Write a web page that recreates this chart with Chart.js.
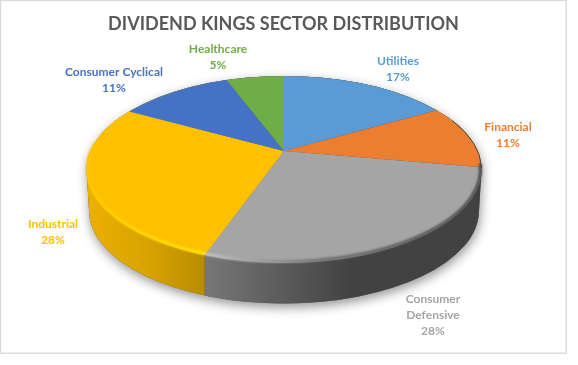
<!DOCTYPE html>
<html><head><meta charset="utf-8">
<style>html,body{margin:0;padding:0;background:#fff}canvas{display:block}</style>
<script src="https://cdn.jsdelivr.net/npm/chart.js@4"></script>
</head><body>
<canvas id="c" width="578" height="365"></canvas>
<script>
const chartTitle = 'DIVIDEND KINGS SECTOR DISTRIBUTION';
const categories = ['Utilities','Financial','Consumer Defensive','Industrial','Consumer Cyclical','Healthcare'];
const shares = [16.7,11.1,27.6,27.6,11.3,5.7];
const shareLabels = ['17%','11%','28%','28%','11%','5%'];
const sliceColors = ['#5B9BD5','#ED7D31','#A5A5A5','#FFC000','#4472C4','#70AD47'];
const labelLines = [['Utilities'],['Financial'],['Consumer','Defensive'],['Industrial'],['Consumer Cyclical'],['Healthcare']];
const labelOffsets = [[114,-100.5],[224,-34.5],[149,145.5],[-231,62.5],[-170,-89.5],[-66,-112.5]];

// View of the tilted disc
const view = {cx:284, cy:169.5, rx:197.5, ry:93.5, k:-0.198, depth:41, baseRx:195, baseRy:93};

function project(theta){
  const v=-Math.cos(theta), x=Math.sin(theta), d=1+view.k*v;
  return {x:view.cx+view.rx*x*Math.sqrt(1-view.k*view.k)/d, y:view.cy+view.ry*(v+view.k)/d};
}
function apex(){return {x:view.cx, y:view.cy+view.ry*view.k};}
function ellipsePath(ctx,cy,rx,ry,a,b){ctx.ellipse(view.cx,cy,rx,ry,0,a,b);}

const pie3d = {
  id:'pie3d',
  afterDatasetsUpdate(chart){
    const els=chart.getDatasetMeta(0).data, A=apex();
    let prev=null;
    els.forEach(el=>{
      const ang=t=>{const p=project(t+Math.PI/2);return Math.atan2(p.y-A.y,p.x-A.x);};
      const t0=el.startAngle,t1=el.endAngle;
      el.$rim=[project(t0+Math.PI/2),project(t1+Math.PI/2)];
      let s=ang(t0),e=ang(t1);
      if(prev!==null){while(s<prev-1e-6)s+=Math.PI*2;}
      while(e<s)e+=Math.PI*2;
      el.startAngle=s;el.endAngle=e;el.circumference=e-s;
      el.x=A.x;el.y=A.y;el.innerRadius=0;el.outerRadius=420;
      prev=e;
    });
  },
  beforeDatasetsDraw(chart){
    const ctx=chart.ctx, els=chart.getDatasetMeta(0).data;
    const bcy=view.cy+view.depth;
    const body=()=>{
      ctx.beginPath();
      ellipsePath(ctx,view.cy,view.rx,view.ry,Math.PI,Math.PI*2);
      ellipsePath(ctx,bcy,view.baseRx,view.baseRy,0,Math.PI);
      ctx.closePath();
    };
    // soft cast shadow
    ctx.save();
    ctx.shadowColor='rgba(0,0,0,0.42)';ctx.shadowBlur=11;ctx.shadowOffsetY=4;ctx.shadowOffsetX=1;
    ctx.fillStyle='#444';body();ctx.fill();
    ctx.restore();
    // walls: every slice fills the x-range of its lower rim
    ctx.save();body();ctx.clip();
    const L=view.cx-view.rx, W=view.rx*2;
    els.forEach((el,i)=>{
      const a=el.$rim[0], b=el.$rim[1];
      const midLow=(a.y>=view.cy-2||b.y>=view.cy-2);
      if(!midLow)return;
      const x1=a.y>=view.cy-2?a.x:L+W, x0=b.y>=view.cy-2?b.x:L;
      ctx.fillStyle=sliceColors[i];
      ctx.fillRect(x0,0,x1-x0,365);
    });
    const g=ctx.createLinearGradient(L,0,L+W,0);
    [[0,.08],[.15,.15],[.30,.28],[.52,.47],[.67,.60],[1,.60]].forEach(([p,a])=>g.addColorStop(p,`rgba(0,0,0,${a})`));
    ctx.fillStyle=g;ctx.fillRect(0,0,578,365);
    ctx.restore();
    // clip the top face, then Chart.js paints the slices
    ctx.save();
    ctx.beginPath();ellipsePath(ctx,view.cy,view.rx,view.ry,0,Math.PI*2);ctx.clip();
  },
  afterDatasetsDraw(chart){
    const ctx=chart.ctx, els=chart.getDatasetMeta(0).data;
    ctx.restore();
    // bevelled rim along the front edge
    const L=view.cx-view.rx, W=view.rx*2;
    const bx=els[2].$rim[1].x;
    const p=(bx-L)/W;
    const g=ctx.createLinearGradient(L,0,L+W,0);
    g.addColorStop(0,'#FFC800');g.addColorStop(p*.5,'#FFDC00');g.addColorStop(p-.002,'#FFEA00');
    g.addColorStop(p+.002,'#C4C4C4');g.addColorStop(p+.15,'#9A9A9A');g.addColorStop(p+.3,'#6A6A6A');g.addColorStop(1,'#454545');
    ctx.save();
    ctx.filter='blur(0.8px)';
    ctx.strokeStyle=g;ctx.lineWidth=2.8;
    ctx.beginPath();ellipsePath(ctx,view.cy-0.4,view.rx-1,view.ry-1,-0.06,Math.PI+0.28);ctx.stroke();
    ctx.restore();
    // dark hairline on the far right edge
    ctx.save();
    ctx.strokeStyle='rgba(60,50,45,.75)';ctx.lineWidth=1;
    ctx.beginPath();ellipsePath(ctx,view.cy,view.rx,view.ry,-0.55,-0.02);ctx.stroke();
    ctx.restore();
    // labels
    ctx.save();
    ctx.font='bold 12px Lato';ctx.textAlign='center';ctx.textBaseline='middle';
    categories.forEach((c,i)=>{
      const lines=labelLines[i].concat(shareLabels[i]);
      const x=view.cx+labelOffsets[i][0], y=view.cy+labelOffsets[i][1];
      ctx.fillStyle=sliceColors[i];
      lines.forEach((t,j)=>ctx.fillText(t,x,y+(j-(lines.length-1)/2)*16));
    });
    ctx.restore();
  },
  beforeDraw(chart){
    const ctx=chart.ctx;
    ctx.save();ctx.fillStyle='#fff';ctx.fillRect(0,0,578,365);
    ctx.strokeStyle='#D9D9D9';ctx.lineWidth=1.3;ctx.strokeRect(0.5,0.5,565.7,352.7);
    ctx.restore();
  }
};

new Chart(document.getElementById('c'),{
  type:'pie',
  data:{labels:categories,datasets:[{data:shares,backgroundColor:sliceColors,borderWidth:0,clip:false}]},
  options:{
    responsive:false,animation:false,events:[],
    layout:{padding:{right:11}},
    plugins:{
      legend:{display:false},tooltip:{enabled:false},
      title:{display:true,text:chartTitle,color:'#595959',font:{family:'Lato',size:18,weight:'bold'},padding:{top:13,bottom:4}}
    }
  },
  plugins:[pie3d]
});
</script>
</body></html>
